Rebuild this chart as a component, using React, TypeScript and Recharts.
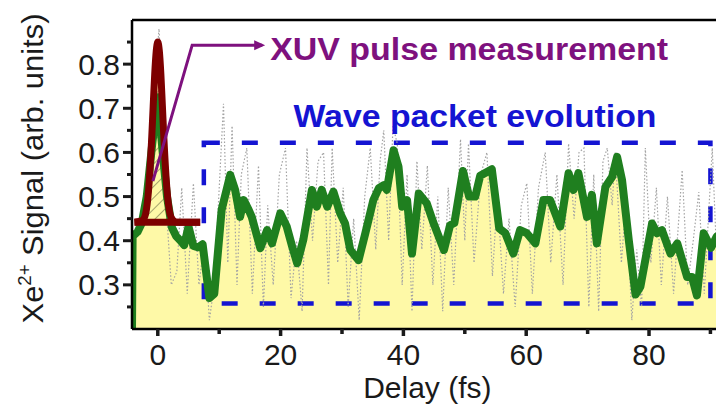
import React from 'react';
import {
  ComposedChart, Area, Line, XAxis, YAxis, ReferenceLine, ReferenceArea, ReferenceDot, Label,
} from 'recharts';

const FONT = '"Liberation Sans", Arial, Helvetica, sans-serif';

// Smoothed Xe2+ signal (green curve)
const greenDelay = [
  -4.2, -4.1, -3.3, -2.6, -1.8, -0.9, 0, 0.8, 1.5, 2.3, 3.0, 3.7, 4.3, 5.0, 5.8, 6.6, 7.3, 8.4, 9.2,
  10.4, 11.8, 12.6, 13.4, 14.0, 14.8, 15.3, 16.7, 17.8, 18.6, 19.95, 21.0, 21.9, 22.7, 23.7, 25.1,
  25.9, 26.7, 27.6, 28.6, 29.7, 30.5, 31.35, 32.7, 33.8, 35.1, 36.0, 36.8, 37.3, 38.4, 39.2, 39.8,
  40.6, 41.4, 42.5, 43.8, 44.9, 46.6, 47.6, 48.3, 49.7, 50.7, 51.7, 52.5, 54.4, 55.6, 56.6, 57.9,
  59.0, 60.1, 61.5, 62.8, 63.9, 65.55, 66.9, 67.7, 68.5, 69.9, 70.7, 71.5, 72.9, 74.0, 74.8, 75.6,
  76.7, 77.8, 78.6, 79.7, 80.5, 81.3, 82.1, 83.5, 84.6, 86.2, 87.0, 87.8, 88.9, 90.1, 91.0, 92,
];
const greenSignal = [
  0.2, 0.41, 0.42, 0.44, 0.5, 0.62, 0.725, 0.6, 0.5, 0.43, 0.41, 0.4, 0.39, 0.432, 0.388, 0.385, 0.392, 0.27, 0.28,
  0.47, 0.549, 0.515, 0.454, 0.492, 0.47, 0.454, 0.383, 0.424, 0.394, 0.462, 0.432, 0.386, 0.349, 0.402, 0.515,
  0.477, 0.515, 0.477, 0.511, 0.462, 0.439, 0.379, 0.356, 0.417, 0.492, 0.519, 0.526, 0.515, 0.605, 0.568, 0.477,
  0.492, 0.371, 0.507, 0.485, 0.44, 0.379, 0.435, 0.44, 0.558, 0.5, 0.5, 0.547, 0.562, 0.428, 0.417, 0.371,
  0.424, 0.417, 0.394, 0.492, 0.492, 0.432, 0.553, 0.515, 0.553, 0.454, 0.504, 0.394, 0.522, 0.545, 0.59, 0.538,
  0.402, 0.278, 0.296, 0.379, 0.439, 0.417, 0.424, 0.371, 0.394, 0.318, 0.318, 0.276, 0.417, 0.384, 0.409, 0.4,
];

// Raw signal (grey dotted trace)
const grayDelay = [
  -4, -3, -1.5, -0.5, 0.2, 0.8, 1.5, 2.2, 3.1, 3.9, 4.8, 5.8, 6.7, 7.6, 8.4, 9.2, 10.7, 11.4, 12.1, 12.9,
  13.6, 14.5, 15.4, 16.4, 17.2, 17.9, 18.8, 19.8, 20.8, 21.7, 22.6, 23.5, 24.3, 25.2, 26.1, 27.0, 27.8,
  28.4, 29.3, 30.2, 31.0, 31.9, 32.8, 33.7, 34.6, 35.5, 36.2, 36.8, 37.6, 38.3, 39.0, 39.8, 40.6, 41.4,
  42.2, 43.0, 43.9, 44.8, 45.6, 46.4, 47.3, 48.2, 49.3, 50.0, 50.6, 51.5, 52.6, 53.6, 54.5, 55.3, 56.3,
  57.2, 58.2, 59.2, 60.1, 61.0, 62.0, 63.1, 64.0, 65.0, 66.0, 66.9, 67.8, 68.6, 69.4, 70.2, 71.0, 71.8,
  72.5, 73.2, 74.0, 74.5, 75.5, 76.3, 77.2, 78.0, 78.8, 79.4, 80.3, 81.2, 82.0, 83.0, 84.0, 85.4, 86.3,
  87.2, 88.1, 89.0, 90.3, 91.2, 92,
];
const graySignal = [
  0.4, 0.42, 0.5, 0.75, 0.88, 0.7, 0.45, 0.3, 0.33, 0.52, 0.28, 0.53, 0.3, 0.4, 0.22, 0.3, 0.71, 0.35, 0.66, 0.3,
  0.55, 0.61, 0.28, 0.57, 0.25, 0.48, 0.3, 0.55, 0.61, 0.27, 0.4, 0.24, 0.61, 0.4, 0.58, 0.6, 0.3,
  0.61, 0.35, 0.52, 0.25, 0.45, 0.22, 0.5, 0.61, 0.38, 0.58, 0.65, 0.4, 0.66, 0.62, 0.3, 0.55, 0.24,
  0.58, 0.38, 0.57, 0.3, 0.5, 0.24, 0.52, 0.3, 0.63, 0.4, 0.62, 0.35, 0.55, 0.6, 0.32, 0.5, 0.28,
  0.45, 0.25, 0.48, 0.53, 0.28, 0.52, 0.6, 0.35, 0.55, 0.3, 0.62, 0.45, 0.6, 0.61, 0.25, 0.55, 0.24,
  0.58, 0.61, 0.48, 0.6, 0.35, 0.5, 0.22, 0.38, 0.25, 0.61, 0.35, 0.52, 0.3, 0.5, 0.28, 0.56, 0.3,
  0.4, 0.51, 0.28, 0.61, 0.3, 0.45,
];

// XUV pulse (dark red Gaussian on a baseline)
const pulseDelay = [-3.8, -2.5, -2.0, -1.5, -1.0, -0.75, -0.5, -0.25, 0, 0.25, 0.5, 0.75, 1.0, 1.5, 2.0, 2.5, 3.0, 6.9];
const pulseSignal = [0.442, 0.446, 0.46, 0.515, 0.63, 0.705, 0.778, 0.83, 0.85, 0.83, 0.778, 0.705, 0.63, 0.515, 0.46, 0.446, 0.442, 0.442];
const pulseBase = 0.442;

// Annotation arrow and box
const arrowDelay = [-0.8, 5.6, 17.0];
const arrowSignal = [0.535, 0.843, 0.843];
const boxDelay = [7.5, 90];
const boxSignal = [0.258, 0.622];

const xTicks = [0, 10, 20, 30, 40, 50, 60, 70, 80, 90];
const yTicks = [0.25, 0.3, 0.35, 0.4, 0.45, 0.5, 0.55, 0.6, 0.65, 0.7, 0.75, 0.8, 0.85];

const YELLOW = '#fef9a7';
const GREEN = '#1f7f1f';
const RED = '#7d0000';
const PURPLE = '#7e117e';
const BLUE = '#1414d2';
const INK = '#1a1a1a';

const XTick = (props: any) => {
  const { x, y, payload } = props;
  const major = payload.value % 20 === 0;
  return (
    <g>
      <line x1={x} x2={x} y1={y} y2={y + (major ? 7 : 5)} stroke={INK} strokeWidth={3.5} />
      {major && (
        <text x={x} y={y + 36} textAnchor="middle" fontSize={30} fill={INK} fontFamily={FONT}>
          {payload.value}
        </text>
      )}
    </g>
  );
};

const YTick = (props: any) => {
  const { x, y, payload } = props;
  const v = payload.value;
  const major = Math.abs(v * 10 - Math.round(v * 10)) < 1e-6;
  return (
    <g>
      <line x1={x - (major ? 9 : 5)} x2={x} y1={y} y2={y} stroke={INK} strokeWidth={3} />
      {major && (
        <text x={x - 12} y={y + 10.5} textAnchor="end" fontSize={30} fill={INK} fontFamily={FONT}>
          {v.toFixed(1)}
        </text>
      )}
    </g>
  );
};

const YTitle = (props: any) => {
  const vb = props.viewBox || { x: 0, y: 20, width: 132, height: 309 };
  const cx = 43;
  const cy = vb.y + vb.height / 2 - 6;
  return (
    <text x={cx} y={cy} transform={`rotate(-90, ${cx}, ${cy})`} textAnchor="middle" fontSize={30} fill={INK} fontFamily={FONT} textLength={310} lengthAdjust="spacingAndGlyphs">
      Xe
      <tspan fontSize={18} dy={-12}>2+</tspan>
      <tspan dy={12}> Signal (arb. units)</tspan>
    </text>
  );
};

const XTitle = (props: any) => {
  const vb = props.viewBox || { x: 132, y: 329, width: 590, height: 76 };
  return (
    <text x={vb.x + vb.width / 2} y={vb.y + vb.height - 7} textAnchor="middle" fontSize={30} fill={INK} fontFamily={FONT}>
      Delay (fs)
    </text>
  );
};

export default function App() {
  const greenData = greenDelay.map((d, i) => ({ d, v: greenSignal[i] }));
  const grayData = grayDelay.map((d, i) => ({ d, v: graySignal[i] }));
  const pulseData = pulseDelay.map((d, i) => ({ d, lo: pulseBase, hi: pulseSignal[i] }));
  const arrowData = arrowDelay.map((d, i) => ({ d, v: arrowSignal[i] }));
  const last = arrowData.length - 1;

  return (
    <div style={{ position: 'absolute', left: 0, top: 0, width: 716, height: 405, overflow: 'hidden', background: '#fff' }}>
      <ComposedChart width={740} height={405} margin={{ top: 20, right: 17.3, bottom: 0, left: 0 }}>
        <defs>
          <pattern id="hatch" width="8" height="8" patternUnits="userSpaceOnUse" patternTransform="rotate(45)">
            <rect width="8" height="8" fill={YELLOW} />
            <line x1="0" y1="0" x2="0" y2="8" stroke="#6b6b45" strokeWidth="1.2" />
          </pattern>
        </defs>
        <XAxis
          type="number"
          dataKey="d"
          domain={[-4.2, 92]}
          allowDataOverflow
          ticks={xTicks}
          interval={0}
          tick={<XTick />}
          tickLine={false}
          tickSize={0}
          tickMargin={0}
          axisLine={{ stroke: '#000', strokeWidth: 2.5 }}
          height={76}
        >
          <Label content={<XTitle />} />
        </XAxis>
        <YAxis
          type="number"
          domain={[0.2, 0.9]}
          allowDataOverflow
          ticks={yTicks}
          interval={0}
          tick={<YTick />}
          tickLine={false}
          tickSize={0}
          tickMargin={0}
          axisLine={{ stroke: '#000', strokeWidth: 2.5 }}
          width={132}
        >
          <Label content={<YTitle />} />
        </YAxis>

        <Area data={greenData} dataKey="v" type="linear" fill={YELLOW} fillOpacity={1} stroke="none" isAnimationActive={false} activeDot={false} />
        <Area data={pulseData} dataKey={(p: any) => [p.lo, p.hi]} type="monotone" fill="url(#hatch)" fillOpacity={1} stroke="none" isAnimationActive={false} activeDot={false} />
        <Line data={grayData} dataKey="v" type="linear" stroke="#a3a3a3" strokeWidth={1.2} strokeDasharray="1.5 2" dot={false} activeDot={false} isAnimationActive={false} />
        <Line data={greenData} dataKey="v" type="linear" stroke={GREEN} strokeWidth={8} strokeLinejoin="round" strokeLinecap="round" dot={false} activeDot={false} isAnimationActive={false} />
        <ReferenceLine segment={[{ x: pulseDelay[0], y: pulseBase }, { x: pulseDelay[pulseDelay.length - 1], y: pulseBase }]} stroke={RED} strokeWidth={7} />
        <Line data={pulseData} dataKey="hi" type="monotone" stroke={RED} strokeWidth={7} strokeLinejoin="round" dot={false} activeDot={false} isAnimationActive={false} />
        <ReferenceArea x1={boxDelay[0]} x2={boxDelay[1]} y1={boxSignal[0]} y2={boxSignal[1]} fill="none" fillOpacity={0} stroke={BLUE} strokeWidth={4.5} strokeDasharray="16 22" ifOverflow="visible" />
        <ReferenceLine y={0.9} stroke="#000" strokeWidth={2.5} />
        <Line
          data={arrowData}
          dataKey="v"
          type="linear"
          stroke={PURPLE}
          strokeWidth={3}
          isAnimationActive={false}
          activeDot={false}
          dot={(p: any) =>
            p.index === last ? (
              <polygon key="head" points={`${p.cx + 3},${p.cy} ${p.cx - 8},${p.cy - 5} ${p.cx - 8},${p.cy + 5}`} fill={PURPLE} />
            ) : (
              <g key={`n${p.index}`} />
            )
          }
        />
        <ReferenceDot
          x={18.3}
          y={0.809}
          ifOverflow="visible"
          shape={(p: any) => (
            <text x={p.cx} y={p.cy} fontSize={32} fontWeight="bold" fill={PURPLE} fontFamily={FONT} textLength={398} lengthAdjust="spacingAndGlyphs">
              XUV pulse measurement
            </text>
          )}
        />
        <ReferenceDot
          x={22.1}
          y={0.658}
          ifOverflow="visible"
          shape={(p: any) => (
            <text x={p.cx} y={p.cy} fontSize={32} fontWeight="bold" fill={BLUE} fontFamily={FONT} textLength={363} lengthAdjust="spacingAndGlyphs">
              Wave packet evolution
            </text>
          )}
        />
      </ComposedChart>
    </div>
  );
}
